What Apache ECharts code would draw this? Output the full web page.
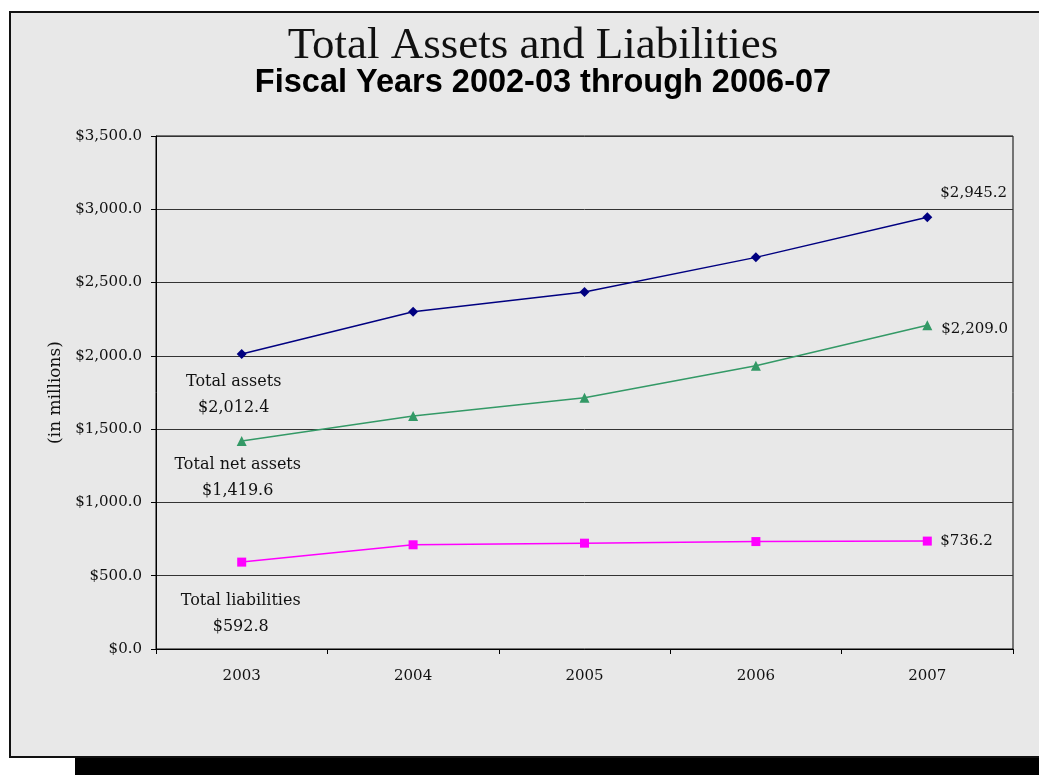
<!DOCTYPE html>
<html>
<head>
<meta charset="utf-8">
<script src="https://cdn.jsdelivr.net/npm/echarts@6/dist/echarts.min.js"></script>
<style>html,body{margin:0;padding:0;background:#fff;}#c{width:1039px;height:775px;}</style>
</head>
<body>
<div id="c"></div>
<script>
const years = ['2003', '2004', '2005', '2006', '2007'];
const totalAssets = [2012.4, 2301, 2436, 2672, 2945.2];
const totalNetAssets = [1419.6, 1590, 1714, 1933, 2209.0];
const totalLiabilities = [592.8, 711, 722, 733, 736.2];
const yTicks = [0, 500, 1000, 1500, 2000, 2500, 3000, 3500];

const SERIF = '"DejaVu Serif", serif';
const fmtMoney = v => '$' + Number(v).toLocaleString('en-US', {minimumFractionDigits: 1, maximumFractionDigits: 1});

function buildData(values, name, firstOffset, lastOffset) {
  return values.map((v, i) => {
    const item = { value: v };
    if (i === 0) {
      item.label = {
        show: true, position: 'inside', offset: firstOffset, align: 'center',
        formatter: name + '\n' + fmtMoney(v),
        fontFamily: SERIF, fontSize: 16, color: '#111', lineHeight: 26
      };
    } else if (i === values.length - 1) {
      item.label = {
        show: true, position: 'inside', offset: lastOffset, align: 'left',
        formatter: fmtMoney(v),
        fontFamily: SERIF, fontSize: 15, color: '#111'
      };
    }
    return item;
  });
}

const chart = echarts.init(document.getElementById('c'), null, { renderer: 'canvas' });
chart.setOption({
  backgroundColor: '#ffffff',
  animation: false,
  graphic: [
    { type: 'rect', z: -10, shape: { x: 75, y: 30, width: 1000, height: 745 }, style: { fill: '#000' } },
    { type: 'rect', z: -9, shape: { x: 10, y: 12, width: 1060, height: 745 }, style: { fill: '#e8e8e8', stroke: '#111', lineWidth: 2 } }
  ],
  title: [
    { text: 'Total Assets and Liabilities', left: 528, top: 19, textAlign: 'center',
      textStyle: { fontFamily: '"Liberation Serif", serif', fontWeight: 'normal', fontSize: 45, color: '#111' } },
    { text: 'Fiscal Years 2002-03 through 2006-07', left: 538, top: 62, textAlign: 'center',
      textStyle: { fontFamily: '"Liberation Sans", Arial, sans-serif', fontWeight: 'bold', fontSize: 32.5, color: '#000' } }
  ],
  grid: { left: 156, right: 26, top: 136, bottom: 126, show: true, borderColor: '#000', borderWidth: 1, backgroundColor: 'transparent' },
  xAxis: {
    type: 'category', data: years, boundaryGap: true,
    axisLine: { lineStyle: { color: '#000', width: 1 } },
    axisTick: { show: true, alignWithLabel: false, length: 5, lineStyle: { color: '#000' } },
    axisLabel: { margin: 20, fontFamily: SERIF, fontSize: 15, color: '#111' }
  },
  yAxis: {
    type: 'value', min: yTicks[0], max: yTicks[yTicks.length - 1], interval: 500,
    name: '(in millions)', nameLocation: 'middle', nameGap: 91, nameRotate: 90,
    nameTextStyle: { fontFamily: SERIF, fontSize: 17, color: '#111' },
    axisLine: { show: true, lineStyle: { color: '#000' } },
    axisTick: { show: true, length: 5, lineStyle: { color: '#000' } },
    axisLabel: { margin: 14, fontFamily: SERIF, fontSize: 15, color: '#111', formatter: v => fmtMoney(v) },
    splitLine: { show: true, lineStyle: { color: '#333', width: 1 } }
  },
  series: [
    { name: 'Total assets', type: 'line', data: buildData(totalAssets, 'Total assets', [-8, 41], [13, -24]),
      symbol: 'diamond', symbolSize: 10, itemStyle: { color: '#000080' }, lineStyle: { color: '#000080', width: 1.5 } },
    { name: 'Total net assets', type: 'line', data: buildData(totalNetAssets, 'Total net assets', [-4, 37], [14, 4]),
      symbol: 'triangle', symbolSize: 10, itemStyle: { color: '#339966' }, lineStyle: { color: '#339966', width: 1.5 } },
    { name: 'Total liabilities', type: 'line', data: buildData(totalLiabilities, 'Total liabilities', [-1, 52], [13, 0]),
      symbol: 'rect', symbolSize: 9, itemStyle: { color: '#ff00ff' }, lineStyle: { color: '#ff00ff', width: 1.5 } }
  ]
});
</script>
</body>
</html>
